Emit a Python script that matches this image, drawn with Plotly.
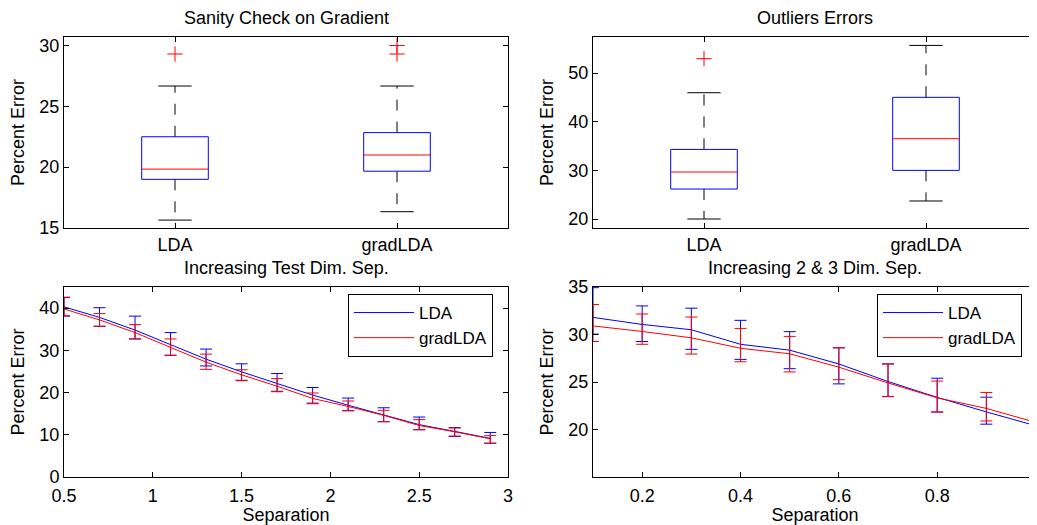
import plotly.graph_objects as go

# ---------------- data ----------------
groups = ["LDA", "gradLDA"]

# Sanity Check on Gradient (box statistics)
sanity_q1 = [19.0, 19.67]
sanity_median = [19.84, 21.0]
sanity_q3 = [22.5, 22.84]
sanity_low = [15.65, 16.34]
sanity_high = [26.67, 26.67]
sanity_outliers = [[29.3], [29.3, 30.0]]

# Outliers Errors (box statistics)
outl_q1 = [26.16, 29.99]
outl_median = [29.66, 36.5]
outl_q3 = [34.3, 45.0]
outl_low = [20.0, 23.7]
outl_high = [45.95, 55.67]
outl_outliers = [[52.94], []]

# Increasing Test Dim. Sep.
test_sep = [0.5, 0.7, 0.9, 1.1, 1.3, 1.5, 1.7, 1.9, 2.1, 2.3, 2.5, 2.7, 2.9]
test_lda = [40.3, 37.8, 34.8, 31.4, 27.9, 24.9, 22.2, 19.4, 17.0, 14.7, 12.4, 10.8, 9.15]
test_lda_top = [42.5, 40.1, 38.1, 34.2, 30.3, 26.8, 24.5, 21.2, 18.7, 16.4, 14.2, 11.7, 10.55]
test_lda_bot = [38.1, 35.7, 32.7, 28.8, 26.3, 22.9, 20.3, 17.5, 15.7, 13.1, 11.2, 9.6, 8.0]
test_grad = [39.8, 37.2, 34.2, 30.7, 27.2, 24.2, 21.5, 18.6, 16.7, 14.6, 12.2, 10.7, 9.05]
test_grad_top = [42.6, 38.7, 36.1, 32.7, 29.1, 25.4, 23.3, 19.9, 18.0, 15.8, 13.6, 11.6, 9.8]
test_grad_bot = [38.2, 35.7, 32.7, 28.85, 25.5, 22.8, 20.2, 17.35, 15.7, 13.1, 11.2, 9.7, 8.0]

# Increasing 2 & 3 Dim. Sep.
dim_sep = [0.1, 0.2, 0.3, 0.4, 0.5, 0.6, 0.7, 0.8, 0.9, 1.0]
dim_lda = [31.8, 31.06, 30.5, 28.97, 28.35, 26.9, 25.05, 23.38, 21.85, 20.4]
dim_lda_top = [34.93, 33.01, 32.77, 31.49, 30.3, 28.6, 26.9, 25.4, 23.4, 21.77]
dim_lda_bot = [30.04, 29.26, 28.44, 27.38, 26.4, 24.8, 23.47, 21.84, 20.56, 19.22]
dim_grad = [30.9, 30.32, 29.65, 28.55, 27.97, 26.56, 24.9, 23.33, 22.22, 20.75]
dim_grad_top = [33.16, 32.16, 31.84, 30.64, 29.8, 28.6, 26.9, 25.1, 23.9, 22.23]
dim_grad_bot = [29.26, 28.97, 27.94, 27.13, 26.06, 25.24, 23.47, 21.84, 20.9, 19.47]

titles = ["Sanity Check on Gradient", "Outliers Errors",
          "Increasing Test Dim. Sep.", "Increasing 2 & 3 Dim. Sep."]

# ---------------- style ----------------
FONT = "Liberation Sans, Arial, Helvetica, sans-serif"
FS = 18
BLUE = "rgb(0,0,255)"
RED = "rgb(255,0,0)"
OFF = 8  # page body margin: page pixel = figure pixel + OFF
W, H = 1037 - OFF, 525 - OFF


def px_x(p):
    return min(1.0, (p - OFF) / W)


def px_y(p):
    return (H - (p - OFF)) / H


x_left = [px_x(64), px_x(508)]
x_right = [px_x(593), px_x(1037)]
y_top = [px_y(228), px_y(37)]
y_bot = [px_y(477), px_y(287)]

fig = go.Figure()


def add_box(xa, ya, q1, med, q3, low, high, outliers):
    bw, cw = 0.15, 0.075
    bx, by, mx, my, wx, wy, cx, cy, ox, oy = [], [], [], [], [], [], [], [], [], []
    for i in range(len(groups)):
        p = i + 1
        bx += [p - bw, p + bw, p + bw, p - bw, p - bw, None]
        by += [q1[i], q1[i], q3[i], q3[i], q1[i], None]
        mx += [p - bw, p + bw, None]
        my += [med[i], med[i], None]
        wx += [p, p, None, p, p, None]
        wy += [q3[i], high[i], None, q1[i], low[i], None]
        cx += [p - cw, p + cw, None, p - cw, p + cw, None]
        cy += [high[i], high[i], None, low[i], low[i], None]
        for v in outliers[i]:
            ox.append(p)
            oy.append(v)
    common = dict(xaxis=xa, yaxis=ya, mode="lines", showlegend=False, hoverinfo="skip")
    fig.add_trace(go.Scatter(x=wx, y=wy, line=dict(color="black", width=1, dash="11px,11px"), **common))
    fig.add_trace(go.Scatter(x=cx, y=cy, line=dict(color="black", width=1), **common))
    fig.add_trace(go.Scatter(x=bx, y=by, line=dict(color=BLUE, width=1), **common))
    fig.add_trace(go.Scatter(x=mx, y=my, line=dict(color=RED, width=1), **common))
    fig.add_trace(go.Scatter(x=ox, y=oy, xaxis=xa, yaxis=ya, mode="markers", showlegend=False,
                             marker=dict(symbol="cross-thin", size=11, line=dict(color=RED, width=1)),
                             hoverinfo="skip"))


def add_err(xa, ya, xs, mean, top, bot, name, color, legend):
    fig.add_trace(go.Scatter(
        x=xs, y=mean, xaxis=xa, yaxis=ya, mode="lines", name=name, legend=legend,
        line=dict(color=color, width=1),
        error_y=dict(type="data", symmetric=False,
                     array=[t - m for t, m in zip(top, mean)],
                     arrayminus=[m - b for m, b in zip(mean, bot)],
                     color=color, thickness=1, width=6)))


add_box("x", "y", sanity_q1, sanity_median, sanity_q3, sanity_low, sanity_high, sanity_outliers)
add_box("x2", "y2", outl_q1, outl_median, outl_q3, outl_low, outl_high, outl_outliers)
add_err("x3", "y3", test_sep, test_lda, test_lda_top, test_lda_bot, "LDA", BLUE, "legend")
add_err("x3", "y3", test_sep, test_grad, test_grad_top, test_grad_bot, "gradLDA", RED, "legend")
add_err("x4", "y4", dim_sep, dim_lda, dim_lda_top, dim_lda_bot, "LDA", BLUE, "legend2")
add_err("x4", "y4", dim_sep, dim_grad, dim_grad_top, dim_grad_bot, "gradLDA", RED, "legend2")

axis_common = dict(showline=True, linecolor="black", linewidth=1, mirror="ticks",
                   ticks="inside", ticklen=5, tickcolor="black", showgrid=False,
                   zeroline=False, automargin=False,
                   tickfont=dict(family=FONT, size=FS, color="black"))


def ytitle(text):
    return dict(text=text, font=dict(family=FONT, size=FS, color="black"), standoff=10)


def xtitle(text):
    return dict(text=text, font=dict(family=FONT, size=FS, color="black"), standoff=0)


fig.update_layout(
    width=W, height=H, margin=dict(l=0, r=0, t=0, b=0, autoexpand=False),
    paper_bgcolor="white", plot_bgcolor="white",
    font=dict(family=FONT, size=FS, color="black"),
    xaxis=dict(domain=x_left, anchor="y", range=[0.5, 2.5], tickvals=[1, 2], ticktext=groups, **axis_common),
    yaxis=dict(domain=y_top, anchor="x", range=[15, 30.7], tickvals=[15, 20, 25, 30],
               title=ytitle("Percent Error"), **axis_common),
    xaxis2=dict(domain=x_right, anchor="y2", range=[0.5, 2.5], tickvals=[1, 2], ticktext=groups, **axis_common),
    yaxis2=dict(domain=y_top, anchor="x2", range=[18.15, 57.4], tickvals=[20, 30, 40, 50],
                title=ytitle("Percent Error"), **axis_common),
    xaxis3=dict(domain=x_left, anchor="y3", range=[0.5, 3], tickvals=[0.5, 1, 1.5, 2, 2.5, 3],
                ticktext=["0.5", "1", "1.5", "2", "2.5", "3"], ticklabelstandoff=2,
                title=xtitle("Separation"), **axis_common),
    yaxis3=dict(domain=y_bot, anchor="x3", range=[0, 45], tickvals=[0, 10, 20, 30, 40],
                title=ytitle("Percent Error"), **axis_common),
    xaxis4=dict(domain=x_right, anchor="y4", range=[0.1, 1.003], tickvals=[0.2, 0.4, 0.6, 0.8, 1.0],
                ticktext=["0.2", "0.4", "0.6", "0.8", "1"], ticklabelstandoff=2,
                ticklabeloverflow="allow",
                title=xtitle("Separation"), **axis_common),
    yaxis4=dict(domain=y_bot, anchor="x4", range=[15, 35], tickvals=[20, 25, 30, 35],
                title=ytitle("Percent Error"), **axis_common),
    legend=dict(x=px_x(348), y=px_y(294), xanchor="left", yanchor="top",
                bgcolor="white", bordercolor="black", borderwidth=1, itemwidth=60,
                font=dict(family=FONT, size=17), tracegroupgap=0),
    legend2=dict(x=px_x(877), y=px_y(294), xanchor="left", yanchor="top",
                 bgcolor="white", bordercolor="black", borderwidth=1, itemwidth=60,
                 font=dict(family=FONT, size=17), tracegroupgap=0),
    showlegend=True,
)

title_pos = [(x_left, y_top), (x_right, y_top), (x_left, y_bot), (x_right, y_bot)]
for t, (xd, yd) in zip(titles, title_pos):
    fig.add_annotation(text=t, xref="paper", yref="paper", x=(xd[0] + xd[1]) / 2, y=yd[1],
                       xanchor="center", yanchor="bottom", yshift=7, showarrow=False,
                       font=dict(family=FONT, size=FS, color="black"))

fig.write_html("out.html")
